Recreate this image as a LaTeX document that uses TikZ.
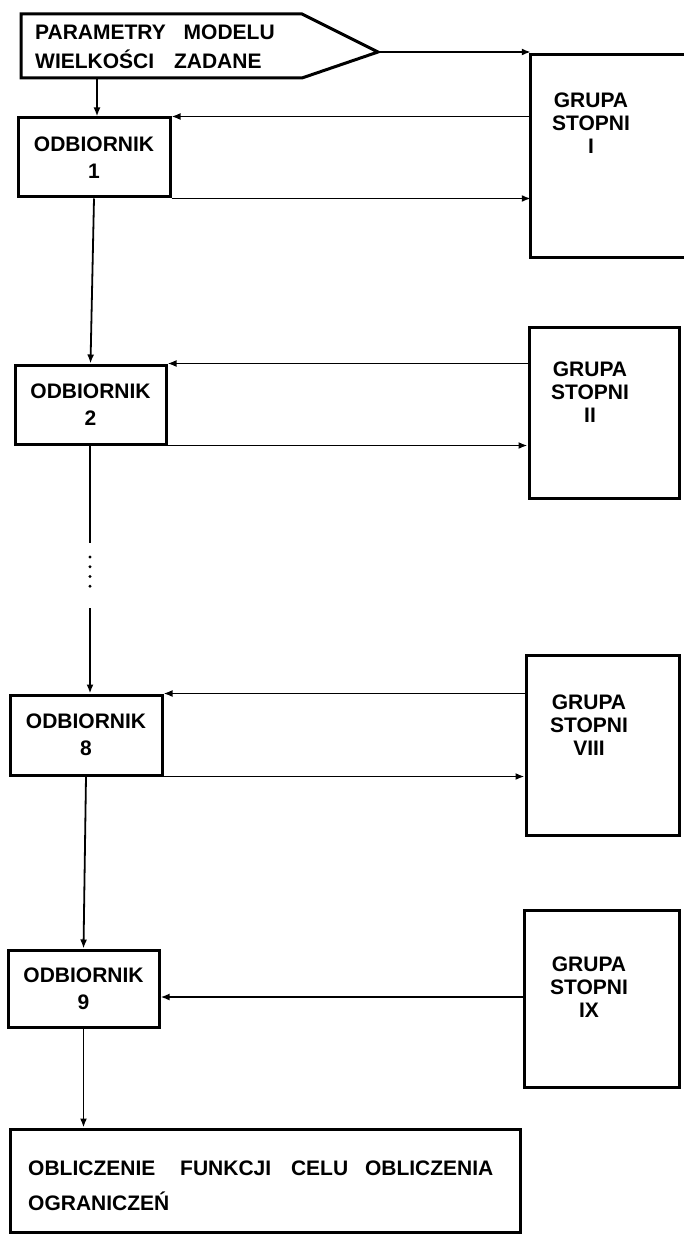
\documentclass[tikz,border=0pt]{standalone}
\usepackage{fontspec}
\setmainfont{Liberation Sans}
\usetikzlibrary{arrows.meta}
\begin{document}
\begin{tikzpicture}[x=1pt,y=-1pt,
  boxline/.style={line width=3pt, line join=miter},
  box/.style={draw, boxline, inner sep=0pt, align=center, font=\fontsize{21}{27}\selectfont\bfseries},
  grtext/.style={inner sep=0pt, align=center, font=\fontsize{21}{23}\selectfont\bfseries},
  conn/.style={line width=1.8pt},
  arr/.style={conn, -{Latex[length=9pt,width=7pt]}},
  dotline/.style={line width=3.2pt, line cap=round, dash pattern=on 0pt off 9.75pt}]
\useasboundingbox (0,0) rectangle (683,1238);

% input pentagon
\draw[boxline] (21,14) -- (302,14) -- (378,52) -- (302,78) -- (21,78) -- cycle;
\coordinate (ptip) at (378,52);
\coordinate (pbot) at (97,78);
\node[anchor=west, align=left, inner sep=0pt, font=\fontsize{21}{29}\selectfont\bfseries] (ptext) at (35,46.5)
  {PARAMETRY \hspace{12pt}MODELU\\WIELKOŚCI \hspace{14pt}ZADANE};

% receivers
\node[box, minimum width=152pt, minimum height=79pt] (b1) at (94,157.5) {ODBIORNIK\\1};
\node[box, minimum width=151pt, minimum height=79pt] (b2) at (90.5,404.5) {ODBIORNIK\\2};
\node[box, minimum width=152pt, minimum height=80pt] (b8) at (86,735) {ODBIORNIK\\8};
\node[box, minimum width=151pt, minimum height=77pt] (b9) at (83.5,988.5) {ODBIORNIK\\9};

% stage groups
\node[inner sep=0pt, minimum width=154pt, minimum height=202pt] (g1) at (608,156) {};
\draw[boxline] (g1.north east) -- (g1.north west) -- (g1.south west) -- (g1.south east);
\node[grtext] (g1t) at (591,123) {GRUPA\\STOPNI\\I};

\node[box, minimum width=150pt, minimum height=171pt] (g2) at (604,412.5) {};
\node[grtext] (g2t) at (590,392) {GRUPA\\STOPNI\\II};

\node[box, minimum width=153pt, minimum height=180pt] (g8) at (602.5,745) {};
\node[grtext] (g8t) at (589,725) {GRUPA\\STOPNI\\VIII};

\node[box, minimum width=155pt, minimum height=177pt] (g9) at (601.5,998.5) {};
\node[grtext] (g9t) at (589,987) {GRUPA\\STOPNI\\IX};

% final box
\node[box, minimum width=510pt, minimum height=103pt] (fin) at (265,1180.5) {};
\node[anchor=west, align=left, inner sep=0pt, font=\fontsize{21}{35}\selectfont\bfseries] (fint) at (28,1185.5)
  {OBLICZENIE \hspace{19pt}FUNKCJI \hspace{14pt}CELU \hspace{11pt}OBLICZENIA\\OGRANICZEŃ};

% connectors
\draw[arr] (ptip) -- (g1.west |- ptip);
\draw[arr] (pbot) -- (b1.north -| pbot);

\draw[arr] (g1.west |- b1.north east) -- (b1.north east);
\draw[arr] (b1.south east) -- (g1.west |- b1.south east);
\draw[arr] (b1.south) -- (b2.north);

\draw[arr] (g2.west |- b2.north east) -- (b2.north east);
\draw[arr] (b2.south east) -- (g2.west |- b2.south east);

\coordinate (d1) at (90,543);
\coordinate (d2) at (90,557);
\coordinate (d3) at (90,596);
\coordinate (d4) at (90,608);
\draw[conn] (b2.south -| d1) -- (d1);
\draw[dotline] (d2) -- (d3);
\draw[arr] (d4) -- (b8.north -| d4);

\draw[arr] (g8.west |- b8.north east) -- (b8.north east);
\draw[arr] (b8.south east) -- (g8.west |- b8.south east);
\draw[arr] (b8.south) -- (b9.north);

\coordinate (a9) at ([yshift=-8.5pt]b9.east);
\draw[arr] (g9.west |- a9) -- (a9);
\draw[arr] (b9.south) -- (fin.north -| b9.south);
\end{tikzpicture}
\end{document}
